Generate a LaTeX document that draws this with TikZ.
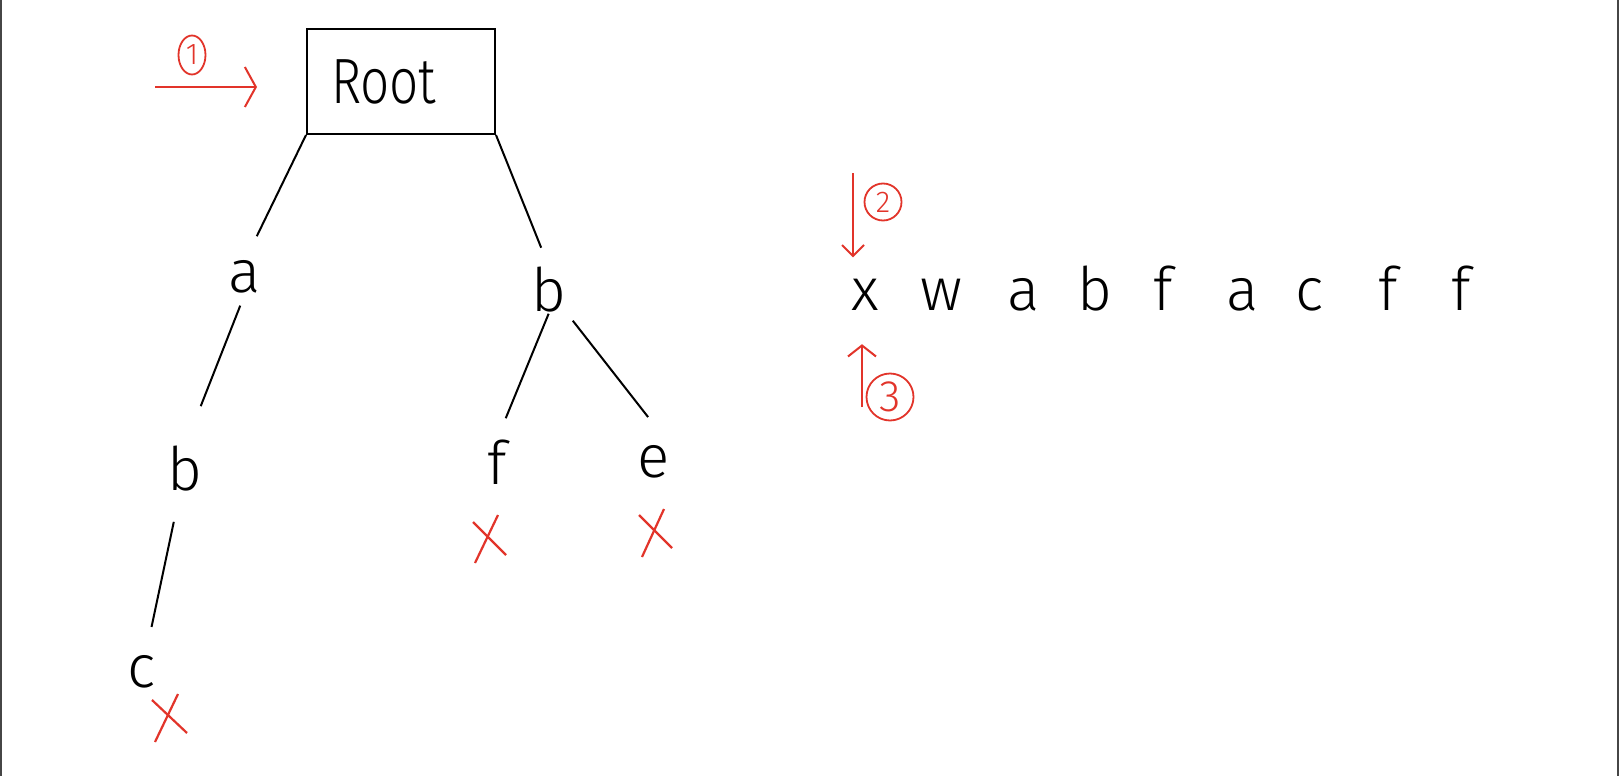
\documentclass[tikz,border=0pt]{standalone}
\usepackage{fontspec}
\setmainfont{Fira Sans Light}
\usetikzlibrary{arrows.meta,shapes.geometric}
\definecolor{mred}{RGB}{226,52,42}
\definecolor{bord}{RGB}{70,70,70}
\begin{document}
\begin{tikzpicture}[x=1pt,y=-1pt,
  edge/.style={line width=2pt, black},
  letter/.style={inner sep=0pt, font=\fontsize{60}{60}\selectfont},
  strl/.style={letter, anchor=base},
  redarrow/.style={mred, line width=2pt, -{Straight Barb[length=11pt,width=#1]}},
  redarrow/.default=20pt,
  xmark/.style={mred, line width=2.2pt},
  num/.style={draw=mred, text=mred, line width=1.8pt, inner sep=0pt}]
\fill[white] (0,0) rectangle (1620,776);
\useasboundingbox (0,0) rectangle (1620,776);
\draw[bord, line width=2pt] (1,0) -- (1,776);
\draw[bord, line width=2pt] (1618,0) -- (1618,776);

% tree
\node[draw, line width=2pt, minimum width=188pt, minimum height=105pt,
      text width=140pt, inner xsep=24pt, align=left,
      font=\fontsize{64}{64}\selectfont, anchor=north west] (root) at (306,28) {\scalebox{0.8}[1]{Root}};
\node[letter] (a)  at (245,277) {a};
\node[letter] (b1) at (185,469) {b};
\node[letter] (c)  at (142,672) {c};
\node[letter] (b2) at (549,290) {b};
\node[letter] (f)  at (497,462) {f};
\node[letter] (e)  at (654,462) {e};

\draw[edge, shorten >=27pt] (root.south west) -- (a.north);
\draw[edge, shorten <=13pt, shorten >=43pt] (a.south) -- (b1.north);
\draw[edge, shorten <=54pt, shorten >=46pt] (b1.center) -- (c.center);
\draw[edge, shorten >=21pt] (root.south east) -- (b2.north);
\draw[edge, shorten <=1pt, shorten >=23pt] (b2.south) -- (f.north);
\draw[edge, shorten <=10pt, shorten >=36pt] (b2.south east) -- (e.north east);

% red crosses
\draw[xmark] (155,742) -- (178,694);
\draw[xmark] (152,700) -- (187,733);
\draw[xmark] (475,563) -- (498,515);
\draw[xmark] (473,522) -- (506,555);
\draw[xmark] (642,557) -- (664,509);
\draw[xmark] (639,515) -- (672,548);

% string
\node[strl] (s1) at (865,310) {x};
\node[strl] (s2) at (941,310) {w};
\node[strl] (s3) at (1024,310) {a};
\node[strl] (s4) at (1095,310) {b};
\node[strl] (s5) at (1163,310) {f};
\node[strl] (s6) at (1243,310) {a};
\node[strl] (s7) at (1310,310) {c};
\node[strl] (s8) at (1388,310) {f};
\node[strl] (s9) at (1461,310) {f};

% circled numbers
\node[num, ellipse, minimum width=27pt, minimum height=39pt, font=\fontsize{30}{30}\selectfont] (n1) at (192,55) {1};
\node[num, circle, minimum size=37pt, font=\fontsize{30}{30}\selectfont] (n2) at (883,202) {2};
\node[num, circle, minimum size=47pt, font=\fontsize{44}{44}\selectfont] (n3) at (890,397) {3};

% red arrows
\coordinate (t1) at (155,87);
\draw[redarrow=40pt, shorten >=49pt] (t1) -- (t1 -| root.west);
\coordinate (t2) at (853,173);
\draw[redarrow=22pt, shorten >=21pt] (t2) -- (t2 |- s1.north);
\coordinate (t3) at (862,407);
\draw[redarrow=28pt, shorten >=34pt] (t3) -- (t3 |- s1.south);
\end{tikzpicture}
\end{document}
